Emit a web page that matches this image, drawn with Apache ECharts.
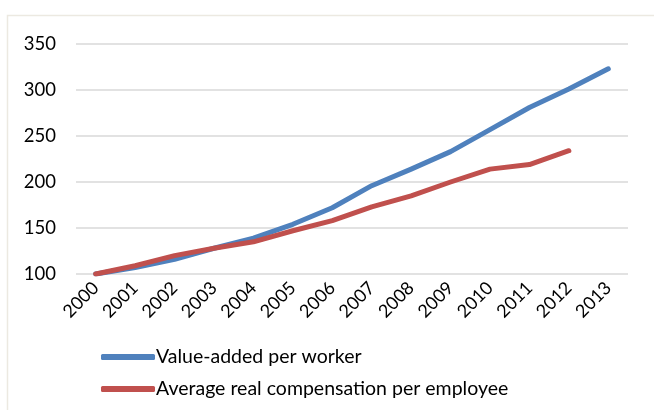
<!DOCTYPE html>
<html>
<head>
<meta charset="utf-8">
<script src="https://cdn.jsdelivr.net/npm/echarts@6/dist/echarts.min.js"></script>
<style>html,body{margin:0;padding:0;background:#fff;}#c{width:654px;height:410px;}</style>
</head>
<body>
<div id="c"></div>
<script>
const years = ['2000','2001','2002','2003','2004','2005','2006','2007','2008','2009','2010','2011','2012','2013'];
const valueAdded = [100,107,116,128,139,154,172,196,214,233,257,281,301,323];
const compensation = [100,109,120,128,135,147,158,173,185,200,214,219,234,null];
const yTicks = {min:100, max:350, interval:50};

const font = 'Lato, "Open Sans", sans-serif';
const chart = echarts.init(document.getElementById('c'));
chart.setOption({
  animation:false,
  graphic:[{type:'rect',shape:{x:7.5,y:15.5,width:700,height:450},style:{fill:'none',stroke:'#ece9e1',lineWidth:1.5},z:-1}],
  grid:{left:76,right:26,top:44,height:230},
  legend:{
    orient:'vertical',left:96,top:342,itemWidth:54,itemHeight:6,itemGap:12,
    icon:'roundRect',
    textStyle:{fontFamily:font,fontSize:19.5,color:'#000',padding:[0,0,0,-4]},
    data:['Value-added per worker','Average real compensation per employee']
  },
  xAxis:{
    type:'category',data:years,boundaryGap:true,
    axisLine:{show:false},axisTick:{show:false},
    axisLabel:{rotate:45,fontFamily:font,fontSize:18,color:'#000',margin:11,interval:0}
  },
  yAxis:{
    type:'value',min:yTicks.min,max:yTicks.max,interval:yTicks.interval,
    axisLine:{show:false},axisTick:{show:false},
    axisLabel:{fontFamily:font,fontSize:18.5,color:'#000',margin:20},
    splitLine:{lineStyle:{color:'#d9d9d9',width:1.5}}
  },
  series:[
    {name:'Value-added per worker',type:'line',data:valueAdded,symbol:'none',
     lineStyle:{color:'#4f81bd',width:5,cap:'round',join:'round'},itemStyle:{color:'#4f81bd'}},
    {name:'Average real compensation per employee',type:'line',data:compensation,symbol:'none',
     lineStyle:{color:'#c0504d',width:5,cap:'round',join:'round'},itemStyle:{color:'#c0504d'}}
  ]
});
</script>
</body>
</html>
